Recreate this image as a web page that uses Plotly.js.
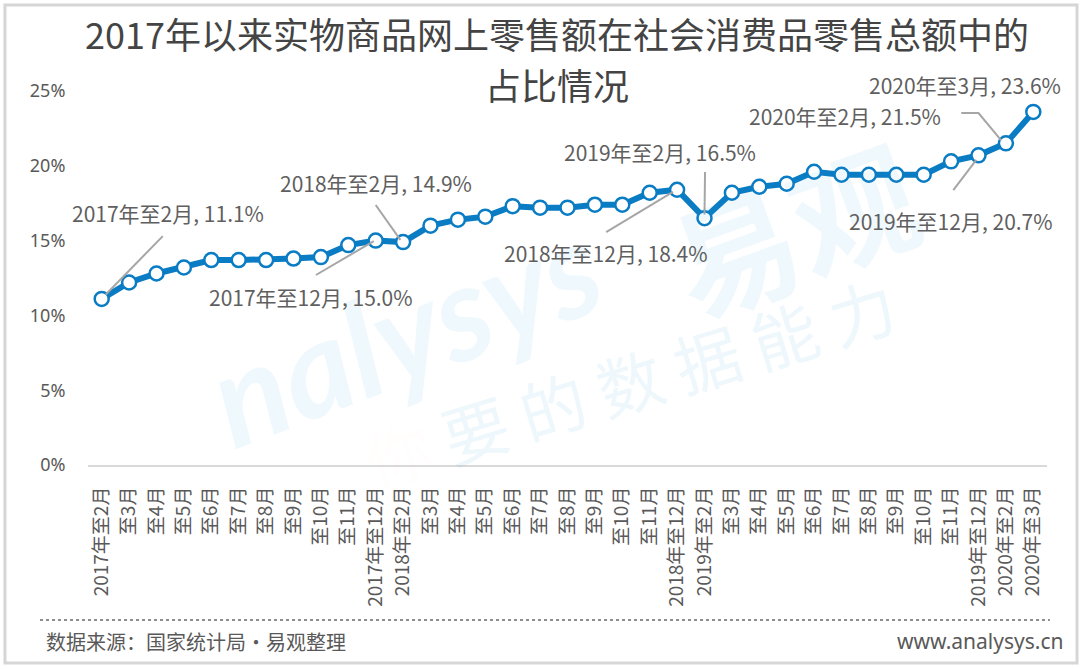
<!DOCTYPE html>
<html>
<head>
<meta charset="utf-8">
<script src="https://cdn.plot.ly/plotly-3.0.1.min.js"></script>
<style>
html,body{margin:0;padding:0;background:#fff;}
#chart{width:1080px;height:669px;}
</style>
</head>
<body>
<div id="chart"></div>
<script>
// ---- data ----
const periods = [
  "2017年至2月","2017年至3月","2017年至4月","2017年至5月","2017年至6月","2017年至7月","2017年至8月","2017年至9月","2017年至10月","2017年至11月","2017年至12月",
  "2018年至2月","2018年至3月","2018年至4月","2018年至5月","2018年至6月","2018年至7月","2018年至8月","2018年至9月","2018年至10月","2018年至11月","2018年至12月",
  "2019年至2月","2019年至3月","2019年至4月","2019年至5月","2019年至6月","2019年至7月","2019年至8月","2019年至9月","2019年至10月","2019年至11月","2019年至12月",
  "2020年至2月","2020年至3月"
];
const tickLabels = [
  "2017年至2月","至3月","至4月","至5月","至6月","至7月","至8月","至9月","至10月","至11月","2017年至12月",
  "2018年至2月","至3月","至4月","至5月","至6月","至7月","至8月","至9月","至10月","至11月","2018年至12月",
  "2019年至2月","至3月","至4月","至5月","至6月","至7月","至8月","至9月","至10月","至11月","2019年至12月",
  "2020年至2月","2020年至3月"
];
const shareValues = [
  11.1,12.2,12.8,13.2,13.7,13.7,13.7,13.8,13.9,14.7,15.0,
  14.9,16.0,16.4,16.6,17.3,17.2,17.2,17.4,17.4,18.2,18.4,
  16.5,18.2,18.6,18.8,19.6,19.4,19.4,19.4,19.4,20.3,20.7,
  21.5,23.6
];
const yTicks = [0,5,10,15,20,25];
const titleLine1 = "2017年以来实物商品网上零售额在社会消费品零售总额中的";
const titleLine2 = "占比情况";
const sourceText = "数据来源：国家统计局•易观整理";
const siteText = "www.analysys.cn";

// labelled points: index, label position, leader line path (paper ref for label when outside y range)
const labelled = [
  {i:0,  tx:2.41,  ty:16.85, line:[[0.15,11.4],[2.23,15.3]]},
  {i:10, tx:7.63,  ty:11.23, line:[[7.82,12.7],[9.93,14.97]]},
  {i:11, tx:10.0,  ty:18.85, line:[[10.0,17.38],[10.9,15.05]]},
  {i:21, tx:18.41, ty:14.17, line:[[18.41,15.57],[20.85,18.25]]},
  {i:22, tx:20.38, ty:20.92, line:[[22.02,19.59],[22.0,16.75]]},
  {i:32, tx:31.01, ty:16.31, line:[[31.08,18.38],[31.92,20.4]]},
  {i:33, tx:27.14, ty:23.33, line:[[31.37,23.53],[32.0,23.53],[32.83,21.7]]},
  {i:34, px:0.9145, py:1.016, line:null}
];

const idx = periods.map((p,k)=>k);
const labelFont = {family:"'Noto Sans CJK SC','Noto Sans',sans-serif", size:21, color:"#5f5f5f"};

const annotations = [];
const shapes = [];

// watermarks
annotations.push({xref:'paper',yref:'paper',x:0.33,y:0.36,xanchor:'center',yanchor:'middle',text:'<i><b>nalysys</b></i>',showarrow:false,
  textangle:-21,font:{family:'Lato, sans-serif',size:132,color:'rgba(30,150,215,0.07)'}});
annotations.push({xref:'paper',yref:'paper',x:0.735,y:0.64,xanchor:'center',yanchor:'middle',text:'<b>易观</b>',showarrow:false,
  textangle:-20,font:{family:"'Noto Sans CJK SC',sans-serif",size:125,color:'rgba(30,150,215,0.07)'}});
annotations.push({xref:'paper',yref:'paper',x:0.565,y:0.227,xanchor:'center',yanchor:'middle',text:'<span style="color:rgba(250,150,40,0.10)">你</span> 要 的 数 据 能 力',showarrow:false,
  textangle:-17,font:{family:"'Noto Sans CJK SC',sans-serif",size:66,color:'rgba(30,150,215,0.08)'}});

labelled.forEach(l=>{
  const txt = periods[l.i]+", "+shareValues[l.i].toFixed(1)+"%";
  if(l.px!==undefined){
    annotations.push({x:l.px,y:l.py,xref:'paper',yref:'paper',text:txt,showarrow:false,xanchor:'center',yanchor:'middle',font:labelFont});
  } else {
    annotations.push({x:l.tx,y:l.ty,xref:'x',yref:'y',text:txt,showarrow:false,xanchor:'center',yanchor:'middle',font:labelFont});
  }
  if(l.line){
    let d = "M" + l.line.map(p=>p[0]+","+p[1]).join(" L");
    shapes.push({type:'path',xref:'x',yref:'y',path:d,line:{color:'#a6a6a6',width:2}});
  }
});

// title (two lines)
const titleFont = {family:"'Noto Sans CJK SC',sans-serif",size:36,color:'#444444'};
annotations.push({xref:'paper',yref:'paper',x:0.489,y:1.155,yanchor:'middle',xanchor:'center',text:titleLine1,showarrow:false,borderpad:0,font:titleFont});
annotations.push({xref:'paper',yref:'paper',x:0.489,y:1.0187,yanchor:'middle',xanchor:'center',text:titleLine2,showarrow:false,borderpad:0,font:titleFont});

// footer
annotations.push({xref:'paper',yref:'paper',x:-0.046,y:-0.4706,xanchor:'left',yanchor:'middle',text:sourceText,showarrow:false,
  font:{family:"'Noto Sans CJK SC',sans-serif",size:20,color:'#595959'}});
annotations.push({xref:'paper',yref:'paper',x:1.0198,y:-0.4706,xanchor:'right',yanchor:'middle',text:siteText,showarrow:false,
  font:{family:"'Noto Sans',sans-serif",size:21,color:'#595959'}});

shapes.push({type:'line',xref:'paper',yref:'paper',x0:-0.05,x1:1.003,y0:-0.4144,y1:-0.4144,line:{color:'#8c8c8c',width:2,dash:'dot'}});
shapes.push({type:'rect',xref:'paper',yref:'paper',x0:-0.0866,x1:1.0313,y0:-0.5294,y1:1.2299,line:{color:'#d6d6d6',width:3}});

const trace = {
  x: idx, y: shareValues, type:'scatter', mode:'lines+markers',
  line:{color:'#0a7cc4',width:6},
  marker:{size:14,color:'#ffffff',line:{color:'#0a7cc4',width:2.5}},
  hoverinfo:'skip'
};

const layout = {
  width:1080, height:669,
  margin:{l:88,r:33,t:91,b:204},
  paper_bgcolor:'#ffffff', plot_bgcolor:'rgba(0,0,0,0)',
  showlegend:false,
  xaxis:{range:[-0.5,34.5],tickmode:'array',tickvals:idx,ticktext:tickLabels,tickangle:-90,
    showgrid:false,zeroline:false,showline:true,linecolor:'#d9d9d9',linewidth:2,
    ticks:'outside',ticklen:12,tickcolor:'rgba(0,0,0,0)',
    tickfont:{family:"'Noto Sans CJK SC',sans-serif",size:19,color:'#595959'},fixedrange:true},
  yaxis:{range:[0,25],tickmode:'array',tickvals:yTicks,ticktext:yTicks.map(v=>v+'%'),
    showgrid:false,zeroline:false,showline:false,
    ticks:'outside',ticklen:18,tickcolor:'rgba(0,0,0,0)',
    tickfont:{family:"'Noto Sans',sans-serif",size:18,color:'#595959'},fixedrange:true},
  annotations:annotations,
  shapes:shapes
};

Plotly.newPlot('chart',[trace],layout,{displayModeBar:false,staticPlot:true});
</script>
</body>
</html>
